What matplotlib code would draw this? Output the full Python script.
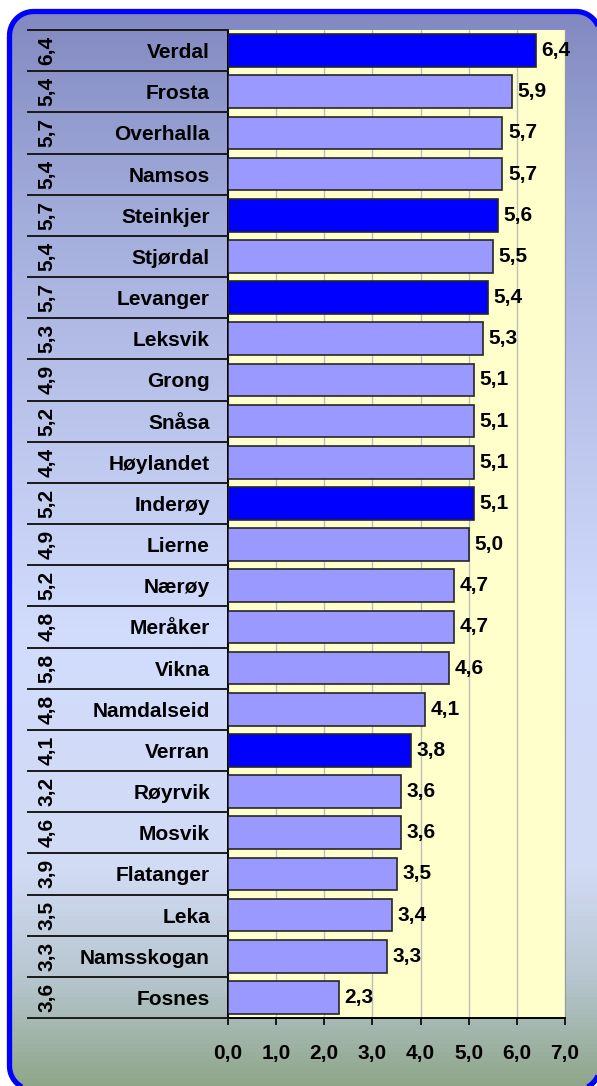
import numpy as np
import matplotlib
matplotlib.use('Agg')
import matplotlib.pyplot as plt
from matplotlib.patches import Polygon
from matplotlib.colors import LinearSegmentedColormap
import matplotlib.transforms as mtransforms

plt.rcParams['font.family'] = ['Liberation Sans', 'DejaVu Sans']
plt.rcParams['font.weight'] = 'bold'

kommuner = ['Verdal', 'Frosta', 'Overhalla', 'Namsos', 'Steinkjer', 'Stjørdal',
            'Levanger', 'Leksvik', 'Grong', 'Snåsa', 'Høylandet', 'Inderøy',
            'Lierne', 'Nærøy', 'Meråker', 'Vikna', 'Namdalseid', 'Verran',
            'Røyrvik', 'Mosvik', 'Flatanger', 'Leka', 'Namsskogan', 'Fosnes']
verdi = [6.4, 5.9, 5.7, 5.7, 5.6, 5.5, 5.4, 5.3, 5.1, 5.1, 5.1, 5.1,
         5.0, 4.7, 4.7, 4.6, 4.1, 3.8, 3.6, 3.6, 3.5, 3.4, 3.3, 2.3]
forrige = [6.4, 5.4, 5.7, 5.4, 5.7, 5.4, 5.7, 5.3, 4.9, 5.2, 4.4, 5.2,
           4.9, 5.2, 4.8, 5.8, 4.8, 4.1, 3.2, 4.6, 3.9, 3.5, 3.3, 3.6]
uthevet = ['Verdal', 'Steinkjer', 'Levanger', 'Inderøy', 'Verran']
xticks = [0, 1, 2, 3, 4, 5, 6, 7]

W, H = 597, 1086
fig = plt.figure(figsize=(W / 100, H / 100), dpi=100)
fig.patch.set_facecolor('white')

# background panel in pixel coordinates
bg = fig.add_axes([0, 0, 1, 1])
bg.set_xlim(0, W)
bg.set_ylim(H, 0)
bg.axis('off')


def rundet_ramme(x0, y0, x1, y1, r, n=16):
    # rounded rectangle as a plain polygon (y grows downwards)
    pts = []
    for cx, cy, a0 in [(x0 + r, y0 + r, 180), (x1 - r, y0 + r, 270),
                       (x1 - r, y1 - r, 0), (x0 + r, y1 - r, 90)]:
        a = np.radians(np.linspace(a0, a0 + 90, n))
        pts += list(zip(cx + r * np.cos(a), cy + r * np.sin(a)))
    return np.array(pts)


grad = LinearSegmentedColormap.from_list('bg', [
    (0.00, (0.50, 0.53, 0.75)),
    (0.20, (0.64, 0.68, 0.86)),
    (0.40, (0.74, 0.78, 0.93)),
    (0.58, (0.82, 0.86, 0.99)),
    (0.80, (0.82, 0.86, 0.96)),
    (0.90, (0.72, 0.78, 0.82)),
    (1.00, (0.56, 0.65, 0.54)),
])
panel = Polygon(rundet_ramme(9.5, 11.5, 600, 1090, 24), closed=True, facecolor='none',
                edgecolor='#0000FF', linewidth=3.8, zorder=3)
bg.add_patch(panel)
img = bg.imshow(np.linspace(0, 1, 256).reshape(-1, 1), cmap=grad, aspect='auto',
                extent=(0, W, H, 0), zorder=1)
img.set_clip_path(panel)

# bar chart
ax = fig.add_axes([228 / W, 1 - 1018 / H, (565 - 228) / W, (1018 - 30) / H])
ax.set_facecolor('#FFFFCC')
n = len(kommuner)
y = np.arange(n)
farger = ['#0000FF' if k in uthevet else '#9999FF' for k in kommuner]
ax.barh(y, verdi, height=0.79, color=farger, edgecolor='#262626', linewidth=1.2, zorder=3)
for yi, v in zip(y, verdi):
    ax.annotate(f'{v:.1f}'.replace('.', ','), (v, yi), xytext=(4, 0),
                textcoords='offset points', va='center', ha='left',
                fontsize=15, fontweight='bold', zorder=4)

ax.set_ylim(n - 0.5, -0.5)
ax.set_xlim(0, 7)
ax.set_xticks(xticks)
ax.set_xticklabels([f'{t:.1f}'.replace('.', ',') for t in xticks], fontsize=15, fontweight='bold')
ax.tick_params(axis='x', direction='out', length=5, width=1.2, pad=14, color='black')
ax.set_yticks(y)
ax.set_yticklabels(kommuner, fontsize=15, fontweight='bold')
ax.tick_params(axis='y', length=0, pad=13)
ax.xaxis.grid(True, color='#BDBDBD', linewidth=1, zorder=0)
ax.set_axisbelow(True)
for s in ['left', 'bottom']:
    ax.spines[s].set_color('black')
    ax.spines[s].set_linewidth(1.4)
ax.spines['right'].set_color('#9A9A9A')
ax.spines['top'].set_visible(False)

# table column: previous values and row lines
trans = mtransforms.blended_transform_factory(bg.transData, ax.transData)
for yi, f in zip(y, forrige):
    ax.text(47, yi, f'{f:.1f}'.replace('.', ','), transform=trans, rotation=90,
            ha='center', va='center', fontsize=15, fontweight='bold', clip_on=False)
for b in np.arange(n + 1) - 0.5:
    ax.plot([28, 228], [b, b], transform=trans, color='#1A1A1A', linewidth=1.4,
            clip_on=False, zorder=5)

fig.savefig('out.png', dpi=100)
